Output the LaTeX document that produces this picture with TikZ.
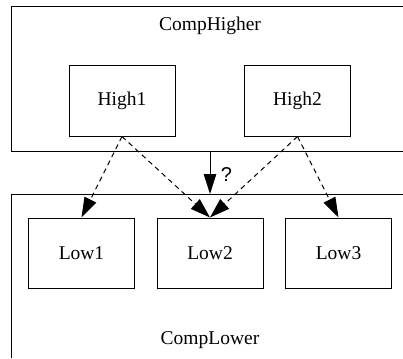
\documentclass[tikz,border=0pt]{standalone}
\usepackage{fontspec}
\setmainfont{Liberation Serif}
\newfontfamily\qfont{Liberation Sans}
\usetikzlibrary{arrows.meta}
\tikzset{
  compbox/.style={draw, line width=1pt, minimum width=106pt, minimum height=70pt, inner sep=0pt, font=\fontsize{19.5}{22}\selectfont},
  clusterline/.style={line width=1pt},
  lbl/.style={font=\fontsize{19.5}{22}\selectfont, inner sep=0pt},
  dep/.style={line width=1pt, dash pattern=on 5pt off 4pt, -{Triangle[length=20pt,width=13pt]}},
  soliddep/.style={line width=1pt, -{Triangle[length=20pt,width=12.5pt]}},
  qlabel/.style={font=\qfont\fontsize{20}{22}\selectfont, inner sep=0pt}
}
\begin{document}
\begin{tikzpicture}[x=1pt,y=-1pt]
\useasboundingbox (0,0) rectangle (403,358);
% clusters
\draw[clusterline] (403,7) -- (11.5,7) -- (11.5,151) -- (403,151);
\draw[clusterline] (403,194) -- (11.5,194) -- (11.5,358);
\node[lbl] (ch) at (210,26) {CompHigher};
\node[lbl] (cl) at (210,340) {CompLower};
% nodes
\node[compbox] (h1) at (122,101) {High1};
\node[compbox] (h2) at (297.5,101) {High2};
\node[compbox] (l1) at (81.5,253) {Low1};
\node[compbox] (l2) at (210,253) {Low2};
\node[compbox] (l3) at (338.5,253) {Low3};
\coordinate (hb) at (210,151);
\coordinate (lt) at (210,194);
% edges
\draw[soliddep] (hb) -- node[qlabel, xshift=16.5pt, yshift=-2pt] (q) {?} (lt);
\draw[dep] (h1.south) -- (l1.north);
\draw[dep] (h1.south) -- (l2.north);
\draw[dep] (h2.south) -- (l2.north);
\draw[dep] (h2.south) -- (l3.north);
\end{tikzpicture}
\end{document}
